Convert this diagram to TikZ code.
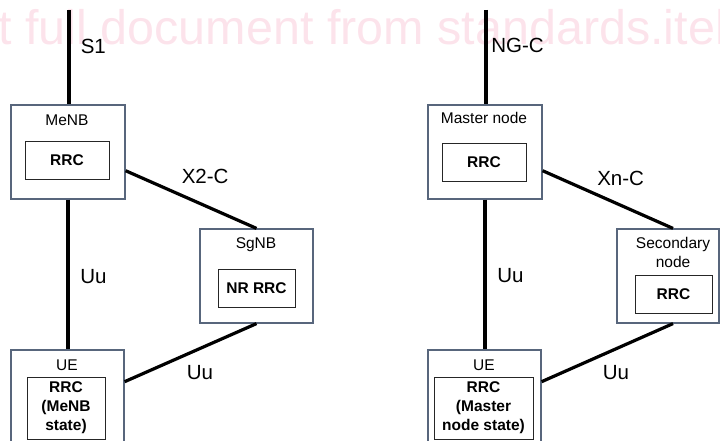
\documentclass[tikz,border=0pt]{standalone}
\usepackage{fontspec}
\setmainfont{Liberation Sans}
\usetikzlibrary{positioning}

\begin{document}
\begin{tikzpicture}[x=1pt, y=-1pt, semithick]
%====Definizione colori===============================================================
	\definecolor{boxgray}{RGB}{88,102,124}
	\definecolor{wmpink}{RGB}{252,227,235}
%====Definizione stili===============================================================
	\tikzstyle{outerbox}=[rectangle, draw=boxgray, line width=1.2pt, minimum width=114pt, minimum height=94pt, inner sep=0pt]
	\tikzstyle{innerbox}=[rectangle, draw=black!85, line width=0.9pt, minimum height=38pt, inner sep=0pt, align=center, font=\fontsize{15.5}{19}\selectfont\bfseries]
	\tikzstyle{title}=[anchor=base, inner sep=0pt, align=center, font=\fontsize{15.5}{19}\selectfont]
	\tikzstyle{iflabel}=[anchor=base west, inner sep=0pt, font=\fontsize{20.5}{24}\selectfont]
	\tikzstyle{link}=[line width=3.2pt]
	\useasboundingbox (0,0) rectangle (720,441);
%====Filigrana===============================================================
	\begin{scope}
		\clip (0,0) rectangle (720,441);
		\node[anchor=base west, inner sep=0pt, text=wmpink, font=\fontsize{48.5}{58}\selectfont] (wm) at (-56,45) {get full document from standards.iteh.ai};
	\end{scope}
%====Lato sinistro: MeNB / SgNB / UE===============================================================
	\node[outerbox]							(menb)		at (68,152)		{};
	\node[title]								(menbt)		at (67,125.5)	{MeNB};
	\node[innerbox, minimum width=84pt]		(menbrrc)	at (67,160)		{RRC};
	\node[outerbox, minimum width=113pt]		(sgnb)		at (256.5,276)	{};
	\node[title]								(sgnbt)		at (256,248)	{SgNB};
	\node[innerbox, minimum width=77pt]		(sgnbrrc)	at (256.5,288)	{NR RRC};
	\node[outerbox, minimum width=113pt]		(ue)			at (67.5,397)	{};
	\node[title]								(uet)			at (67,370)		{UE};
	\node[innerbox, minimum width=78pt, minimum height=62pt]	(uerrc)	at (66,408)	{RRC\\(MeNB\\state)};
%====Lato destro: Master node / Secondary node / UE===============================================================
	\node[outerbox]							(mn)			at (485,152)	{};
	\node[title]								(mnt)			at (484,124)	{Master node};
	\node[innerbox, minimum width=84pt]		(mnrrc)		at (484,162)	{RRC};
	\node[outerbox, minimum width=102pt]		(sn)			at (668,276)	{};
	\node[title]								(snt)			at (673,267)	{Secondary\\node};
	\node[innerbox, minimum width=77pt]		(snrrc)		at (673.5,294)	{RRC};
	\node[outerbox, minimum width=113pt]		(uetwo)		at (484.5,397)	{};
	\node[title]								(uetwot)		at (484,370)	{UE};
	\node[innerbox, minimum width=99pt, minimum height=62pt]	(uetworrc)	at (483.5,408)	{RRC\\(Master\\node state)};
%====Estremi liberi verso la core network===============================================================
	\coordinate (sonetop)	at (69,10);
	\coordinate (ngctop)		at (486,10);
%====Collegamenti===============================================================
			%from				stile		to
	\path[link]	(sonetop)		edge		(sonetop |- menb.north)
				(menb.-18.4)	edge		(sgnb.north)
				(menb.south)	edge		(menb.south |- ue.north)
				(sgnb.south)	edge		(ue.15.8)
				(ngctop)		edge		(ngctop |- mn.north)
				(mn.-18.4)	edge		(sn.84)
				(mn.south)		edge		(mn.south |- uetwo.north)
				(sn.-84)		edge		(uetwo.15.8);
%====Etichette interfacce===============================================================
	\node[iflabel]	(lbsone)		at (80.5,54)		{S1};
	\node[iflabel]	(lbxtwo)		at (181.5,183.5)	{X2-C};
	\node[iflabel]	(lbuua)		at (80,283)			{Uu};
	\node[iflabel]	(lbuub)		at (186.5,379)		{Uu};
	\node[iflabel]	(lbngc)		at (491,53)			{NG-C};
	\node[iflabel]	(lbxnc)		at (597,185)		{Xn-C};
	\node[iflabel]	(lbuuc)		at (497,282)		{Uu};
	\node[iflabel]	(lbuud)		at (602.5,379)		{Uu};
\end{tikzpicture}
\end{document}
